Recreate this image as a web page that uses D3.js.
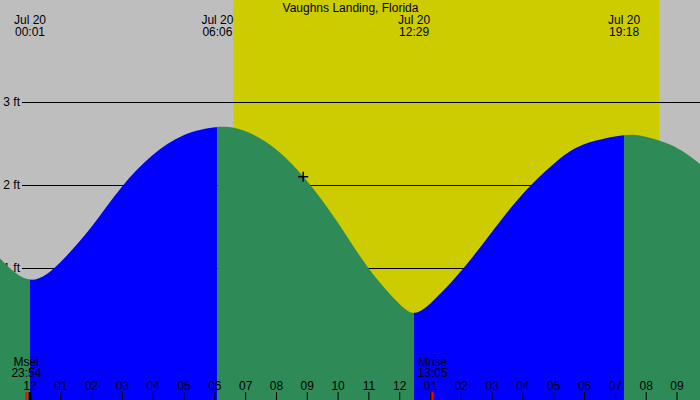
<!DOCTYPE html>
<html>
<head>
<title>Vaughns Landing tides</title>
<style>
body { margin: 0; }
#chart text {
    font-family: "Liberation Sans", Arial, sans-serif;
    font-size: 12px;
    fill: #000;
}
</style>
</head>
<body>
<script src="https://cdn.jsdelivr.net/npm/d3@7"></script>
<svg id="chart" width="700" height="400"></svg>
<script>
const width = 700;
const height = 400;

const title = 'Vaughns Landing, Florida';

// high / low tides
const extremeTimes = ['2024-07-20 00:01', '2024-07-20 06:06', '2024-07-20 12:29', '2024-07-20 19:18'];
const extremeFeet = [0.86, 2.70, 0.46, 2.60];
const extremeDayLabels = ['Jul 20', 'Jul 20', 'Jul 20', 'Jul 20'];
const extremeTimeLabels = ['00:01', '06:06', '12:29', '19:18'];

// heights
const readingTimes = [
    '2024-07-19 23:00', '2024-07-20 01:00', '2024-07-20 02:00', '2024-07-20 03:00',
    '2024-07-20 04:00', '2024-07-20 05:00', '2024-07-20 07:00', '2024-07-20 08:00',
    '2024-07-20 09:00', '2024-07-20 10:00', '2024-07-20 11:00', '2024-07-20 12:00',
    '2024-07-20 13:00', '2024-07-20 14:00', '2024-07-20 15:00', '2024-07-20 16:00',
    '2024-07-20 17:00', '2024-07-20 18:00', '2024-07-20 20:00', '2024-07-20 21:00',
    '2024-07-20 22:00'
];
const readingFeet = [
    1.13, 1.07, 1.49, 1.98,
    2.36, 2.60, 2.65, 2.43,
    2.05, 1.55, 1.00, 0.57,
    0.57, 0.96, 1.43, 1.89,
    2.25, 2.49, 2.58, 2.45,
    2.18
];

const sunTimes = ['2024-07-20 06:37', '2024-07-20 20:26'];

const moonTimes = ['2024-07-19 23:54', '2024-07-20 13:05'];
const moonLabels = ['Mset', 'Mrise'];
const moonTimeLabels = ['23:54', '13:05'];

const nowTime = '2024-07-20 08:53';
const nowFeet = 2.10;

const feetTicks = [1, 2, 3];

const parse = d3.timeParse('%Y-%m-%d %H:%M');

const x = d3.scaleTime()
    .domain([parse('2024-07-20 00:00'), parse('2024-07-20 21:00')])
    .range([29.5, 676.5]);

const y = d3.scaleLinear()
    .domain([0, 3])
    .range([351, 102]);

const svg = d3.select('#chart');

svg.append('rect')
    .attr('width', width)
    .attr('height', height)
    .attr('fill', '#bebebe');

svg.append('rect')
    .attr('x', x(parse(sunTimes[0])))
    .attr('width', x(parse(sunTimes[1])) - x(parse(sunTimes[0])))
    .attr('y', 0)
    .attr('height', height)
    .attr('fill', '#cccc00');

// grid lines
svg.selectAll('.grid')
    .data(feetTicks)
    .enter()
    .append('line')
        .attr('class', 'grid')
        .attr('x1', 22)
        .attr('x2', width)
        .attr('y1', d => y(d))
        .attr('y2', d => y(d))
        .attr('stroke', '#000')
        .attr('stroke-width', 1)
        .attr('shape-rendering', 'crispEdges');

svg.selectAll('.ftlabel')
    .data(feetTicks)
    .enter()
    .append('text')
        .attr('class', 'ftlabel')
        .attr('x', 20)
        .attr('y', d => y(d) + 4)
        .attr('text-anchor', 'end')
        .text(d => d + ' ft');

// tide curve
const points = readingTimes.map((t, i) => ({ t: parse(t), ft: readingFeet[i] }))
    .concat(extremeTimes.map((t, i) => ({ t: parse(t), ft: extremeFeet[i] })))
    .sort((a, b) => a.t - b.t);

const area = d3.area()
    .x(d => x(d.t))
    .y0(height)
    .y1(d => y(d.ft))
    .curve(d3.curveNatural);

// split into rising (blue) and falling (green) pieces at each high / low
const edges = [-10].concat(extremeTimes.map(t => x(parse(t))), [width + 10]);
const segments = [];
for (let i = 0; i < edges.length - 1; i++){
    let rising;
    if (i < extremeFeet.length){
        const next = extremeFeet[i];
        const other = i + 1 < extremeFeet.length ? extremeFeet[i + 1] : extremeFeet[i - 1];
        rising = next > other;
    }
    else {
        rising = extremeFeet[i - 1] < extremeFeet[i - 2];
    }
    segments.push({ x0: edges[i], x1: edges[i + 1], rising });
}

const defs = svg.append('defs');
segments.forEach((s, i) => {
    defs.append('clipPath')
        .attr('id', 'seg' + i)
        .append('rect')
            .attr('x', s.x0)
            .attr('width', s.x1 - s.x0)
            .attr('y', 0)
            .attr('height', height);
});

svg.selectAll('.tide')
    .data(segments)
    .enter()
    .append('path')
        .attr('class', 'tide')
        .attr('d', area(points))
        .attr('clip-path', (d, i) => `url(#seg${i})`)
        .attr('fill', d => d.rising ? '#0000ff' : '#2e8b57');

// current time marker
const nx = x(parse(nowTime));
const ny = y(nowFeet);
svg.append('path')
    .attr('d', `M${nx - 5},${ny}H${nx + 5}M${nx},${ny - 5}V${ny + 5}`)
    .attr('stroke', '#000')
    .attr('stroke-width', 1.5);

// labels
svg.append('text')
    .attr('x', 350.5)
    .attr('y', 12)
    .attr('text-anchor', 'middle')
    .text(title);

const ext = svg.selectAll('.ext')
    .data(extremeTimes)
    .enter()
    .append('g')
        .attr('class', 'ext')
        .attr('transform', d => `translate(${x(parse(d))},0)`);

ext.append('text')
    .attr('y', 24)
    .attr('text-anchor', 'middle')
    .text((d, i) => extremeDayLabels[i]);

ext.append('text')
    .attr('y', 36)
    .attr('text-anchor', 'middle')
    .text((d, i) => extremeTimeLabels[i]);

// hour axis
const axis = svg.append('g')
    .attr('transform', `translate(0,${height})`)
    .call(d3.axisTop(x)
        .ticks(d3.timeHour.every(1))
        .tickSize(8)
        .tickPadding(2)
        .tickFormat(d3.timeFormat('%I')));

axis.select('.domain').remove();
axis.selectAll('.tick line')
    .attr('stroke', '#000')
    .attr('stroke-width', d => d.getHours() === 0 ? 3 : 1);
axis.selectAll('.tick text')
    .attr('font-family', null)
    .attr('font-size', null);

// moon rise / set
const moon = svg.selectAll('.moon')
    .data(moonTimes)
    .enter()
    .append('g')
        .attr('class', 'moon')
        .attr('transform', d => `translate(${x(parse(d))},0)`);

moon.append('line')
    .attr('y1', 392)
    .attr('y2', height)
    .attr('stroke', '#ff0000')
    .attr('stroke-width', 2);

moon.append('text')
    .attr('y', 366)
    .attr('text-anchor', 'middle')
    .text((d, i) => moonLabels[i]);

moon.append('text')
    .attr('y', 377)
    .attr('text-anchor', 'middle')
    .text((d, i) => moonTimeLabels[i]);
</script>
</body>
</html>
